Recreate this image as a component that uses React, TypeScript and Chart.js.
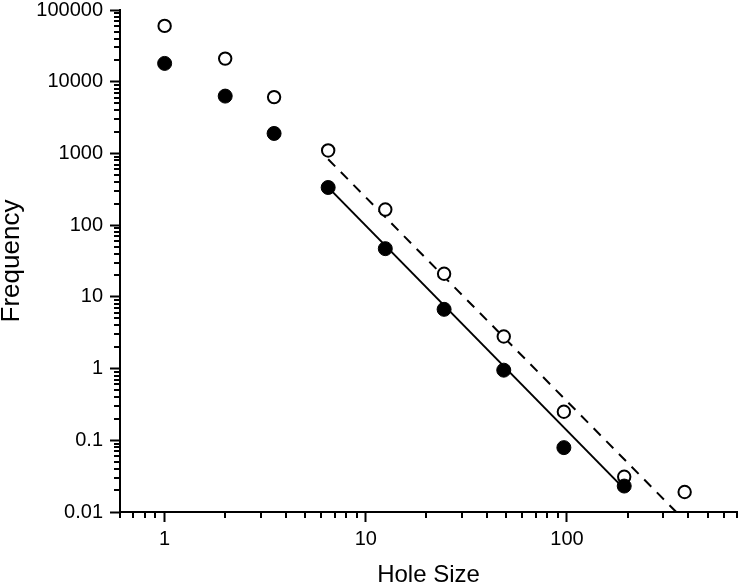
import React, { useEffect, useRef } from 'react';
import { Chart, registerables } from 'chart.js';

Chart.register(...registerables);

// ---- Data ----
const holeSizes = [1, 2, 3.5, 6.5, 12.5, 24.5, 48.5, 96.5, 192.5, 384.5];
const openFreq = [60000, 21000, 6100, 1100, 165, 21, 2.8, 0.25, 0.031, 0.019];
const filledFreq = [18000, 6300, 1900, 335, 47, 6.7, 0.95, 0.079, 0.023];
const solidFitX = [6.5, 192.5];
const solidFitY = [336, 0.021];
const dashedFitX = [6.5, 384.5];
const dashedFitY = [830, 0.0076];

const xMajorTicks = [1, 10, 100];
const xTickLabels = ['1', '10', '100'];
const yMajorTicks = [0.01, 0.1, 1, 10, 100, 1000, 10000, 100000];
const yTickLabels = ['0.01', '0.1', '1', '10', '100', '1000', '10000', '100000'];
const xTitle = 'Hole Size';
const yTitle = 'Frequency';

const X_MIN = 0.6;
const X_MAX = 700;
const Y_MIN = 0.01;
const Y_MAX = 100000;

const PLOT_RIGHT = 737;

const FONT = '"Liberation Sans", Arial, Helvetica, sans-serif';

function logTicks(min: number, max: number): number[] {
  const out: number[] = [];
  const e0 = Math.floor(Math.log10(min));
  const e1 = Math.ceil(Math.log10(max));
  for (let e = e0; e <= e1; e++) {
    for (let m = 1; m <= 9; m++) {
      const v = parseFloat((m * Math.pow(10, e)).toPrecision(6));
      if (v >= min * 0.9999 && v <= max * 1.0001) out.push(v);
    }
  }
  return out;
}

function majorIndex(v: number, majors: number[]): number {
  return majors.findIndex((m) => Math.abs(Math.log10(v / m)) < 1e-6);
}

// Fix the right edge of the plot area (Chart.js reserves a few px for labels)
const rightEdgePlugin = {
  id: 'rightEdge',
  afterLayout(chart: any) {
    const area = chart.chartArea;
    area.right = PLOT_RIGHT;
    area.width = area.right - area.left;
    const xs = chart.scales.x;
    xs.right = PLOT_RIGHT;
    xs.width = xs.right - xs.left;
    xs.configure();
  },
};

const minorTicksPlugin = {
  id: 'minorTicks',
  afterDraw(chart: any) {
    const ctx = chart.ctx;
    const xs = chart.scales.x;
    const ys = chart.scales.y;
    const area = chart.chartArea;
    ctx.save();
    ctx.strokeStyle = '#000';
    ctx.lineWidth = 2;
    ctx.lineCap = 'butt';
    xs.ticks.forEach((t: any) => {
      if (majorIndex(t.value, xMajorTicks) < 0) {
        const px = Math.round(xs.getPixelForValue(t.value));
        ctx.beginPath();
        ctx.moveTo(px, area.bottom);
        ctx.lineTo(px, area.bottom + 6);
        ctx.stroke();
      }
    });
    ys.ticks.forEach((t: any) => {
      if (majorIndex(t.value, yMajorTicks) < 0) {
        const py = Math.round(ys.getPixelForValue(t.value));
        ctx.beginPath();
        ctx.moveTo(area.left, py);
        ctx.lineTo(area.left - 6, py);
        ctx.stroke();
      }
    });
    ctx.restore();
  },
};

export default function App() {
  const canvasRef = useRef<HTMLCanvasElement | null>(null);

  useEffect(() => {
    if (!canvasRef.current) return;
    const chart = new Chart(canvasRef.current, {
      type: 'scatter',
      data: {
        datasets: [
          {
            label: 'filled',
            data: filledFreq.map((y, i) => ({ x: holeSizes[i], y })),
            backgroundColor: '#000',
            borderColor: '#000',
            pointRadius: 7,
            borderWidth: 1,
            showLine: false,
            order: 0,
          },
          {
            label: 'open',
            data: openFreq.map((y, i) => ({ x: holeSizes[i], y })),
            backgroundColor: '#fff',
            borderColor: '#000',
            pointRadius: 6.2,
            borderWidth: 2,
            showLine: false,
            order: 1,
          },
          {
            label: 'solid fit',
            data: solidFitX.map((x, i) => ({ x, y: solidFitY[i] })),
            borderColor: '#000',
            borderWidth: 2,
            pointRadius: 0,
            showLine: true,
            order: 2,
          },
          {
            label: 'dashed fit',
            data: dashedFitX.map((x, i) => ({ x, y: dashedFitY[i] })),
            borderColor: '#000',
            borderWidth: 2,
            borderDash: [10, 8],
            pointRadius: 0,
            showLine: true,
            order: 3,
          },
        ],
      },
      options: {
        responsive: false,
        animation: false,
        devicePixelRatio: 1,
        events: [],
        layout: { padding: { left: 0, right: 0, top: 10, bottom: 0 } },
        plugins: {
          legend: { display: false },
          tooltip: { enabled: false },
        },
        scales: {
          x: {
            type: 'logarithmic',
            position: 'bottom',
            min: X_MIN,
            max: X_MAX,
            afterBuildTicks: (s: any) => {
              s.ticks = logTicks(X_MIN, X_MAX).map((v) => ({ value: v }));
            },
            afterFit: (s: any) => {
              s.height = 72;
              s.paddingLeft = 0;
              s.paddingRight = 0;
            },
            grid: {
              drawOnChartArea: false,
              drawTicks: true,
              tickLength: 10,
              tickWidth: 2,
              tickColor: (c: any) =>
                c.tick && majorIndex(c.tick.value, xMajorTicks) >= 0 ? '#000' : 'rgba(0,0,0,0)',
            },
            border: { display: true, color: '#000', width: 2 },
            ticks: {
              autoSkip: false,
              maxRotation: 0,
              minRotation: 0,
              padding: 7,
              color: '#000',
              font: { family: FONT, size: 20, lineHeight: 1.05 },
              callback: (v: any) => {
                const i = majorIndex(Number(v), xMajorTicks);
                return i >= 0 ? xTickLabels[i] : '';
              },
            },
            title: {
              display: true,
              text: xTitle,
              color: '#000',
              font: { family: FONT, size: 24 },
              padding: { top: 0, bottom: -6 },
            },
          },
          y: {
            type: 'logarithmic',
            position: 'left',
            min: Y_MIN,
            max: Y_MAX,
            afterBuildTicks: (s: any) => {
              s.ticks = logTicks(Y_MIN, Y_MAX).map((v) => ({ value: v }));
            },
            afterFit: (s: any) => {
              s.width = 120;
              s.paddingTop = 0;
              s.paddingBottom = 0;
            },
            grid: {
              drawOnChartArea: false,
              drawTicks: true,
              tickLength: 10,
              tickWidth: 2,
              tickColor: (c: any) =>
                c.tick && majorIndex(c.tick.value, yMajorTicks) >= 0 ? '#000' : 'rgba(0,0,0,0)',
            },
            border: { display: true, color: '#000', width: 2 },
            ticks: {
              autoSkip: false,
              padding: 7,
              color: '#000',
              font: { family: FONT, size: 20, lineHeight: 1.05 },
              callback: (v: any) => {
                const i = majorIndex(Number(v), yMajorTicks);
                return i >= 0 ? yTickLabels[i] : '';
              },
            },
            title: {
              display: true,
              text: yTitle,
              color: '#000',
              font: { family: FONT, size: 26 },
              padding: { top: -4, bottom: 0 },
            },
          },
        },
      },
      plugins: [rightEdgePlugin, minorTicksPlugin],
    } as any);
    return () => chart.destroy();
  }, []);

  return (
    <div style={{ position: 'fixed', left: 0, top: 0, width: 740, height: 584, background: '#fff' }}>
      <canvas ref={canvasRef} width={740} height={584} style={{ display: 'block' }} />
    </div>
  );
}
